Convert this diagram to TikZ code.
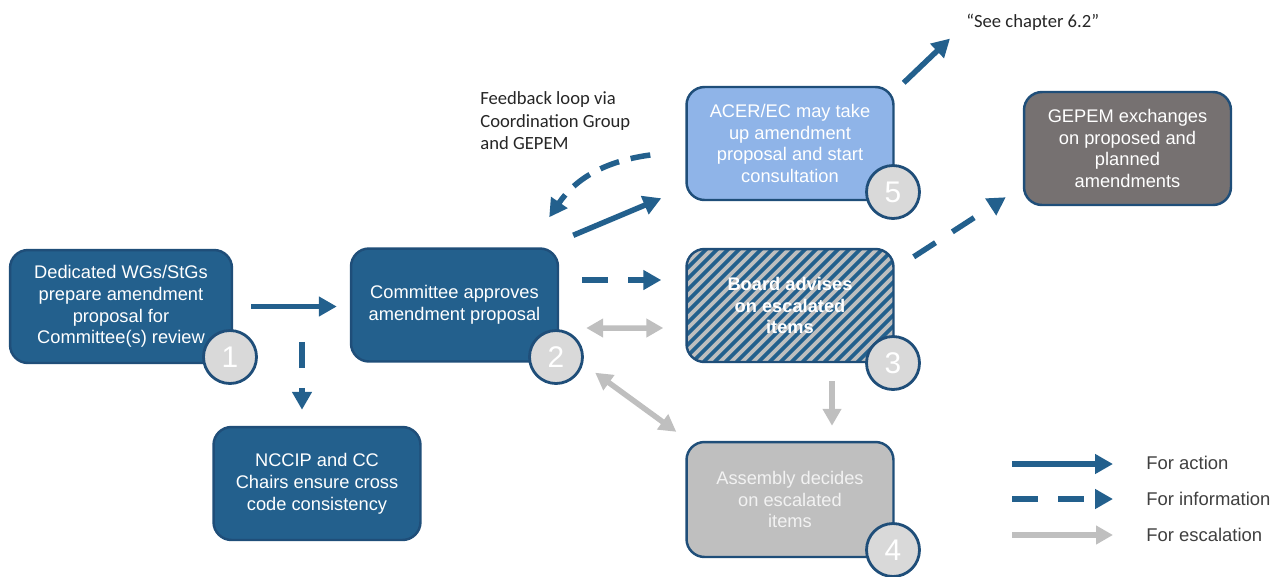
\documentclass[tikz,border=0pt]{standalone}
\usepackage{fontspec}
\setmainfont{Liberation Sans}
\newfontfamily\calibri{Carlito}
\usetikzlibrary{arrows.meta,calc}
\definecolor{boxblue}{HTML}{23608D}
\definecolor{edgeblue}{HTML}{1F4E79}
\definecolor{lightblue}{HTML}{8FB4E8}
\definecolor{darkgrey}{HTML}{767171}
\definecolor{escgrey}{HTML}{BFBFBF}
\definecolor{badgegrey}{HTML}{D9D9D9}
\definecolor{legendtext}{HTML}{404040}
\tikzset{
	box/.style    = {draw=edgeblue, line width=1.4pt, rounded corners=0.36cm,
		fill=boxblue, text=white, align=center, minimum width=4.14cm,
		minimum height=2.26cm, font=\fontsize{10.4}{12.4}\selectfont},
	badge/.style  = {draw=edgeblue, line width=1.6pt, circle, fill=badgegrey,
		text=white, minimum size=1.06cm, inner sep=0pt, font=\fontsize{17}{20}\selectfont},
	action/.style = {draw=boxblue, line width=0.11cm, -{Triangle[length=0.36cm,width=0.38cm]}},
	info/.style   = {action, dash pattern=on 0.52cm off 0.4cm},
	escal/.style  = {draw=escgrey, line width=0.11cm, -{Triangle[length=0.34cm,width=0.36cm]}},
	escaltwo/.style = {escal, {Triangle[length=0.34cm,width=0.36cm]}-{Triangle[length=0.34cm,width=0.36cm]}},
	stripe/.style = {draw=boxblue, line width=0.075cm},
	note/.style   = {inner sep=0pt, font=\calibri\fontsize{10.6}{13}\selectfont, text=black!85},
	legend/.style = {anchor=west, inner sep=0pt, text=legendtext, font=\fontsize{10.5}{12}\selectfont}
}

\begin{document}
\begin{tikzpicture}[x=0.02cm, y=-0.02cm]
	\useasboundingbox (0,0) rectangle (1272,576);

	% process boxes
	\node[box, minimum width=4.44cm] (wg) at (121,306.5) {Dedicated WGs/StGs\\prepare amendment\\proposal for\\Committee(s) review};
	\node[box] (nccip) at (317,483.5) {NCCIP and CC\\Chairs ensure cross\\code consistency};
	\node[box] (cm) at (454.5,305) {Committee approves\\amendment proposal};
	\node[box, fill=lightblue] (acer) at (790,143.5) {ACER/EC may take\\up amendment\\proposal and start\\consultation};
	\node[box, fill=escgrey, font=\fontsize{10.4}{12.4}\selectfont\bfseries,
		path picture={
			\foreach \k in {0,...,30}
				\draw[stripe] ([xshift=-2.3cm+\k*0.22cm]path picture bounding box.south west) -- ++(2.5cm,2.5cm);
		}] (board) at (790,305.5) {Board advises\\on escalated\\items};
	\node[box, fill=escgrey, text=white!95!black, minimum height=2.3cm] (assembly) at (790,499.5) {Assembly decides\\on escalated\\items};
	\node[box, fill=darkgrey] (gepem) at (1127.5,148.5) {GEPEM exchanges\\on proposed and\\planned\\amendments};

	% step numbers
	\node[badge] (b1) at (230,357) {1};
	\node[badge] (b2) at (556,357) {2};
	\node[badge] (b3) at (893,363) {3};
	\node[badge] (b4) at (893,550) {4};
	\node[badge] (b5) at (893,192) {5};

	% notes
	\node[note, anchor=north west, align=left] (fb) at (480,91) {Feedback loop via\\Coordination Group\\and GEPEM};
	\node[note, anchor=west] (see) at (966,22) {“See chapter 6.2”};

	% connectors
	\draw[action] ($(wg.east)+(18,0)$) -- ($(cm.west)+(-13,1.5)$);
	\draw[info] ($(nccip.north)+(-15,-84)$) -- ($(nccip.north)+(-15,-16)$);
	\draw[info] ($(cm.east)+(23,-25)$) -- ($(board.west)+(-24,-25.5)$);
	\draw[action] ($(cm.north east)+(14,-12)$) -- ($(acer.south west)+(-24,-3)$);
	\draw[info, dash pattern=on 0.4cm off 0.24cm] ($(acer.west)+(-35,11.5)$) to[bend right=24] ($(cm.north east)+(-10,-30)$);
	\draw[escaltwo] ($(cm.east)+(27,23)$) -- ($(board.west)+(-22,22.5)$);
	\draw[escaltwo] ($(cm.south east)+(36,10)$) -- ($(assembly.north west)+(-9,-9)$);
	\draw[escal] ($(board.south)+(42,18)$) -- ($(assembly.north)+(42,-15)$);
	\draw[info] ($(board.north east)+(19,9)$) -- ($(gepem.south west)+(-17,-9)$);
	\draw[action] ($(acer.north east)+(9,-3)$) -- ($(see.south west)+(-16,8)$);

	% legend
	\node[legend] (la) at (1146,463) {For action};
	\node[legend] (li) at (1146,499) {For information};
	\node[legend] (le) at (1146,535) {For escalation};
	\draw[action] ($(la.west)+(-134,1)$) -- ($(la.west)+(-33,1)$);
	\draw[info] ($(li.west)+(-134,0)$) -- ($(li.west)+(-33,0)$);
	\draw[escal] ($(le.west)+(-134,0)$) -- ($(le.west)+(-33,0)$);
\end{tikzpicture}
\end{document}
